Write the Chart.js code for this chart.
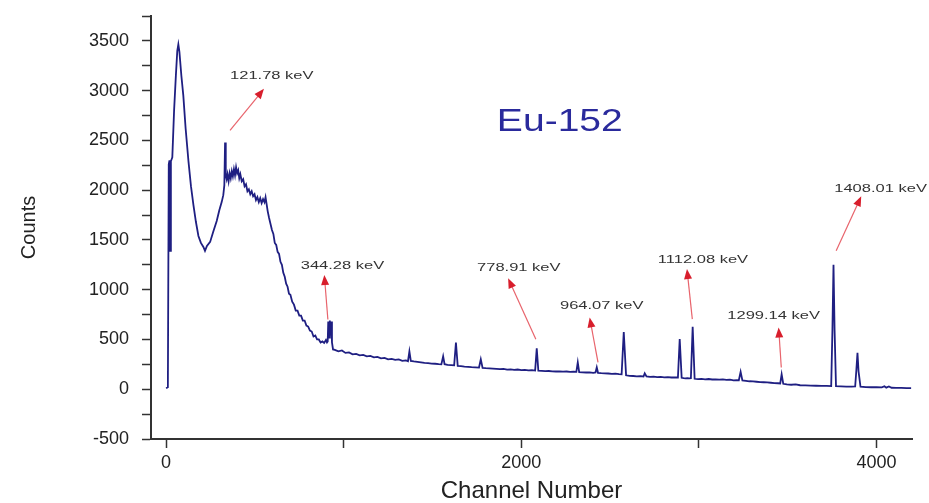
<!DOCTYPE html>
<html>
<head>
<meta charset="utf-8">
<title>Eu-152 spectrum</title>
<script src="https://cdn.jsdelivr.net/npm/chart.js@4.4.1/dist/chart.umd.min.js"></script>
<style>
  html, body { margin: 0; padding: 0; background: #fff; }
  #chartCanvas { display: block; }
</style>
</head>
<body>
<canvas id="chartCanvas" width="929" height="503"></canvas>
<script>
// Spectrum (channel, counts)
const channels = [
  0, 10, 15, 19, 23, 27, 35, 45, 55, 63,
  69, 75, 86, 97, 110, 126, 140, 154, 168, 182,
  196, 210, 219, 230, 248, 265, 285, 300, 313, 322,
  328, 332, 336, 341, 346, 352, 358, 364, 370, 376,
  382, 388, 394, 400, 406, 412, 418, 426, 434, 442,
  450, 458, 466, 474, 482, 490, 498, 506, 514, 522,
  530, 538, 546, 554, 560, 566, 572, 580, 588, 596,
  604, 612, 620, 628, 636, 644, 652, 660, 668, 676,
  684, 692, 700, 710, 720, 730, 740, 750, 760, 770,
  780, 790, 800, 810, 820, 830, 840, 850, 860, 870,
  880, 890, 900, 906, 910, 913, 918, 922, 926, 930,
  934, 940, 950, 970, 990, 1010, 1030, 1050, 1070, 1090,
  1110, 1130, 1150, 1170, 1190, 1210, 1230, 1250, 1270, 1290,
  1310, 1330, 1350, 1362, 1370, 1378, 1395, 1415, 1435, 1455,
  1475, 1495, 1515, 1535, 1550, 1560, 1568, 1585, 1605, 1622,
  1632, 1642, 1660, 1680, 1700, 1720, 1740, 1762, 1772, 1782,
  1800, 1820, 1840, 1860, 1880, 1900, 1920, 1940, 1960, 1980,
  2000, 2020, 2040, 2060, 2078, 2087, 2096, 2115, 2135, 2155,
  2175, 2195, 2215, 2235, 2255, 2275, 2295, 2310, 2318, 2326,
  2345, 2365, 2385, 2405, 2418, 2425, 2432, 2450, 2470, 2490,
  2510, 2530, 2550, 2565, 2577, 2590, 2610, 2630, 2650, 2670,
  2688, 2695, 2705, 2725, 2745, 2765, 2785, 2805, 2825, 2845,
  2865, 2882, 2892, 2903, 2915, 2925, 2935, 2945, 2955, 2965,
  2976, 2995, 3015, 3035, 3055, 3075, 3095, 3115, 3135, 3155,
  3175, 3195, 3215, 3225, 3235, 3245, 3265, 3285, 3305, 3325,
  3345, 3365, 3385, 3405, 3425, 3445, 3458, 3466, 3475, 3495,
  3520, 3545, 3570, 3600, 3630, 3660, 3690, 3720, 3745, 3752,
  3758, 3764, 3772, 3800, 3830, 3860, 3880, 3887, 3893, 3899,
  3910, 3940, 3970, 4000, 4030, 4045, 4055, 4070, 4085, 4110,
  4140, 4170, 4195
];
const counts = [
  10, 20, 2260, 2300, 1390, 2290, 2330, 2800, 3150, 3400,
  3465, 3390, 3150, 2950, 2620, 2290, 2040, 1850, 1680, 1540,
  1470, 1430, 1390, 1440, 1480, 1580, 1690, 1800, 1880, 1950,
  2050, 2480, 2150, 2110, 2160, 2090, 2170, 2120, 2190, 2140,
  2210, 2150, 2230, 2170, 2200, 2120, 2160, 2090, 2110, 2040,
  2060, 1990, 2010, 1960, 1990, 1940, 1960, 1900, 1930, 1880,
  1920, 1870, 1910, 1880, 1930, 1860, 1790, 1720, 1660, 1600,
  1560, 1470, 1450, 1380, 1360, 1280, 1250, 1170, 1130, 1060,
  1030, 960, 950, 880, 850, 790, 790, 740, 740, 690,
  690, 640, 630, 590, 580, 530, 540, 500, 500, 470,
  480, 465, 495, 470, 480, 680, 520, 690, 540, 680,
  470, 400, 395, 380, 390, 365, 370, 350, 355, 340,
  345, 330, 335, 320, 325, 310, 315, 300, 305, 295,
  300, 285, 290, 282, 380, 285, 280, 275, 270, 265,
  262, 258, 256, 252, 250, 330, 252, 245, 242, 240,
  470, 235, 232, 228, 225, 222, 220, 218, 300, 215,
  212, 210, 208, 205, 202, 205, 198, 200, 195, 198,
  192, 195, 190, 192, 188, 410, 186, 184, 182, 183,
  180, 178, 180, 176, 178, 174, 176, 175, 270, 172,
  170, 168, 170, 165, 168, 220, 165, 162, 160, 158,
  155, 156, 152, 150, 575, 140, 135, 133, 130, 132,
  128, 160, 128, 125, 127, 122, 124, 120, 122, 118,
  120, 118, 505, 115, 112, 110, 112, 110, 112, 628,
  105, 102, 104, 100, 103, 98, 100, 97, 99, 95,
  96, 90, 92, 90, 175, 88, 85, 80, 78, 75,
  72, 70, 68, 65, 62, 60, 58, 150, 55, 48,
  45, 48, 40, 38, 36, 35, 34, 33, 32, 600,
  1250, 600, 30, 28, 27, 26, 28, 200, 365, 180,
  25, 22, 20, 20, 18, 30, 16, 28, 15, 14,
  13, 12, 12
];

// Axis ticks
const xTickValues = [0, 1000, 2000, 3000, 4000];
const xTickLabels = [0, 2000, 4000];
const yTickValues = [-500, -250, 0, 250, 500, 750, 1000, 1250, 1500, 1750, 2000, 2250, 2500, 2750, 3000, 3250, 3500, 3750];
const yTickLabels = [-500, 0, 500, 1000, 1500, 2000, 2500, 3000, 3500];

// Peak annotations: label text, arrow tail, arrow tip, label centre (channel, counts)
const peakNames = ["121.78 keV", "344.28 keV", "778.91 keV", "964.07 keV", "1112.08 keV", "1299.14 keV", "1408.01 keV"];
const arrowFrom = [[360, 2600], [911, 700], [2082, 503], [2432, 269], [2963, 704], [3464, 218], [3773, 1391]];
const arrowTo = [[551, 3018], [891, 1147], [1926, 1114], [2385, 721], [2933, 1207], [3449, 621], [3914, 1939]];
const labelAt = [[595, 3152], [993, 1240], [1986, 1217], [2453, 840], [3023, 1303], [3421, 737], [4023, 2012]];

const sourceName = "Eu-152";
const sourceAt = [2217, 2681];

// text drawn a bit wider than tall, like the original
function stretchText(ctx, text, px, py, sx, font, color) {
  ctx.save();
  ctx.translate(px, py);
  ctx.scale(sx, 1);
  ctx.font = font;
  ctx.fillStyle = color;
  ctx.textAlign = "center";
  ctx.textBaseline = "middle";
  ctx.fillText(text, 0, 0);
  ctx.restore();
}

const peakLabels = {
  id: "peakLabels",
  afterDatasetsDraw(chart) {
    const { ctx, scales: { x, y } } = chart;
    ctx.save();
    peakNames.forEach((name, i) => {
      const x0 = x.getPixelForValue(arrowFrom[i][0]);
      const y0 = y.getPixelForValue(arrowFrom[i][1]);
      const x1 = x.getPixelForValue(arrowTo[i][0]);
      const y1 = y.getPixelForValue(arrowTo[i][1]);
      const a = Math.atan2(y1 - y0, x1 - x0);

      ctx.strokeStyle = "#e8646c";
      ctx.lineWidth = 1.2;
      ctx.beginPath();
      ctx.moveTo(x0, y0);
      ctx.lineTo(x1 - 6 * Math.cos(a), y1 - 6 * Math.sin(a));
      ctx.stroke();

      ctx.fillStyle = "#d81e2c";
      ctx.beginPath();
      ctx.moveTo(x1, y1);
      ctx.lineTo(x1 - 10 * Math.cos(a) + 4 * Math.sin(a), y1 - 10 * Math.sin(a) - 4 * Math.cos(a));
      ctx.lineTo(x1 - 10 * Math.cos(a) - 4 * Math.sin(a), y1 - 10 * Math.sin(a) + 4 * Math.cos(a));
      ctx.closePath();
      ctx.fill();

      stretchText(ctx, name, x.getPixelForValue(labelAt[i][0]), y.getPixelForValue(labelAt[i][1]),
        1.5, "11px 'Liberation Sans', Arial, sans-serif", "#333");
    });
    stretchText(ctx, sourceName, x.getPixelForValue(sourceAt[0]), y.getPixelForValue(sourceAt[1]),
      1.26, "31px 'Liberation Sans', Arial, sans-serif", "#2a2a9c");
    ctx.restore();
  }
};

const chartCanvas = document.getElementById("chartCanvas");

new Chart(chartCanvas.getContext("2d"), {
  type: "line",
  data: {
    datasets: [{
      data: channels.map((c, i) => ({ x: c, y: counts[i] })),
      borderColor: "#1f1f82",
      borderWidth: 1.8,
      pointRadius: 0,
      tension: 0,
      fill: false
    }]
  },
  options: {
    responsive: false,
    animation: false,
    devicePixelRatio: 1,
    layout: { padding: { top: 16, right: 17, left: 0, bottom: 0 } },
    plugins: {
      legend: { display: false },
      tooltip: { enabled: false }
    },
    scales: {
      x: {
        type: "linear",
        min: -85,
        max: 4200,
        afterBuildTicks: scale => { scale.ticks = xTickValues.map(v => ({ value: v })); },
        afterFit: scale => { scale.height = 64; scale.paddingLeft = 0; scale.paddingRight = 0; },
        border: { display: true, color: "#333", width: 2 },
        grid: { drawOnChartArea: false, drawTicks: true, tickLength: 9, tickColor: "#333", tickWidth: 1.5 },
        ticks: {
          autoSkip: false,
          maxRotation: 0,
          padding: 4,
          color: "#222",
          font: { family: "'Liberation Sans', Arial, sans-serif", size: 18 },
          callback: v => xTickLabels.includes(v) ? String(v) : ""
        },
        title: {
          display: true,
          text: "Channel Number",
          color: "#222",
          font: { family: "'Liberation Sans', Arial, sans-serif", size: 24 },
          padding: { top: 0, bottom: -3 }
        }
      },
      y: {
        type: "linear",
        min: -500,
        max: 3750,
        afterBuildTicks: scale => { scale.ticks = yTickValues.map(v => ({ value: v })); },
        afterFit: scale => { scale.width = 151; scale.paddingTop = 0; scale.paddingBottom = 0; },
        border: { display: true, color: "#333", width: 2 },
        grid: { drawOnChartArea: false, drawTicks: true, tickLength: 9, tickColor: "#333", tickWidth: 1.5 },
        ticks: {
          autoSkip: false,
          padding: 13,
          color: "#222",
          font: { family: "'Liberation Sans', Arial, sans-serif", size: 18 },
          callback: v => yTickLabels.includes(v) ? String(v) : ""
        },
        title: {
          display: true,
          text: "Counts",
          color: "#222",
          font: { family: "'Liberation Sans', Arial, sans-serif", size: 20 },
          padding: { top: 17, bottom: 0 }
        }
      }
    }
  },
  plugins: [peakLabels]
});
</script>
</body>
</html>
